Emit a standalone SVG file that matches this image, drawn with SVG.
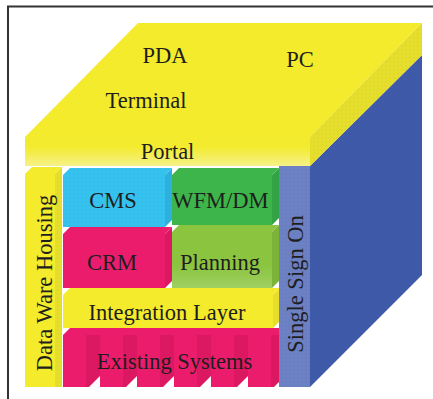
<svg xmlns="http://www.w3.org/2000/svg" width="433" height="399" viewBox="0 0 433 399">
  <defs>
    <linearGradient id="slabFront" x1="0" y1="0" x2="0" y2="1">
      <stop offset="0" stop-color="#f3eb2b"/>
      <stop offset="0.35" stop-color="#f3eb2f"/>
      <stop offset="1" stop-color="#f6f189"/>
    </linearGradient>
    <linearGradient id="softBottom" x1="0" y1="0" x2="0" y2="1">
      <stop offset="0.6" stop-color="#fff" stop-opacity="0"/>
      <stop offset="1" stop-color="#fff" stop-opacity="0.18"/>
    </linearGradient>
    <pattern id="dots" width="4" height="4" patternUnits="userSpaceOnUse">
      <rect x="1" y="1" width="1.3" height="1.3" fill="#000" fill-opacity="0.045"/>
    </pattern>
  </defs>
  <style>
    text { font-family: "Liberation Serif", "Times New Roman", serif; font-size: 22.5px; fill: #1e1e1e; text-anchor: middle; }
    .yellow { fill: #f3eb2b; }
    .yellowSide { fill: #e6de2c; }
    .cyan { fill: #36c2ee; }
    .cyanSide { fill: #2eb1df; }
    .green { fill: #3db54a; }
    .greenSide { fill: #33a443; }
    .lime { fill: #8bc540; }
    .limeSide { fill: #7cb43a; }
    .pink { fill: #ec1c6c; }
    .pinkSide { fill: #dc1862; }
    .blue { fill: #3f5aa9; }
    .blueLight { fill: #6c80c4; }
    .dotted { fill: url(#dots); }
    .gap { fill: #ffffff; }
  </style>

  <rect width="433" height="399" fill="#ffffff"/>
  <!-- frame -->
  <path d="M8 399 V6.5 H433" fill="none" stroke="#333333" stroke-width="2"/>

  <!-- right side of the cube -->
  <g id="cube-side">
    <polygon class="blue" points="310,166 422,55 422,275 310,387"/>
    <polygon class="dotted" points="310,166 422,55 422,275 310,387"/>
  </g>

  <!-- top slab: Terminal / Portal -->
  <g id="terminal-portal">
    <polygon class="yellow" points="138,23 422,23 310,137 25,137"/>
    <rect x="25" y="137" width="285" height="29" fill="url(#slabFront)"/>
    <polygon class="yellowSide" points="310,137 422,23 422,55 310,166"/>
    <polygon class="dotted" points="310,137 422,23 422,55 310,166"/>
    <text x="165" y="63">PDA</text>
    <text x="300" y="67">PC</text>
    <text x="146" y="108">Terminal</text>
    <text x="167.5" y="159">Portal</text>
  </g>

  <!-- CMS -->
  <g id="cms">
    <polygon class="cyan" points="63,175 70,168 172,168 165,175"/>
    <rect class="cyan" x="63" y="175" width="102" height="52"/>
    <polygon class="cyanSide" points="165,175 172,168 172,220 165,227"/>
    <polygon class="dotted" points="63,175 70,168 172,168 172,220 165,227 63,227"/>
    <text x="113" y="208">CMS</text>
  </g>

  <!-- WFM/DM -->
  <g id="wfm-dm">
    <polygon class="green" points="172,175 179,168 279,168 272,175"/>
    <rect class="green" x="172" y="175" width="100" height="50"/>
    <polygon class="greenSide" points="272,175 279,168 279,218 272,225"/>
    <text x="220.5" y="208">WFM/DM</text>
  </g>

  <!-- CRM -->
  <g id="crm">
    <polygon class="pink" points="63,234 70,227 172,227 165,234"/>
    <rect class="pink" x="63" y="234" width="102" height="54"/>
    <polygon class="pinkSide" points="165,234 172,227 172,281 165,288"/>
    <text x="112" y="270">CRM</text>
  </g>

  <!-- Planning -->
  <g id="planning">
    <polygon class="lime" points="172,232 179,225 279,225 272,232"/>
    <rect class="lime" x="172" y="232" width="100" height="56"/>
    <rect x="172" y="232" width="100" height="56" fill="url(#softBottom)"/>
    <polygon class="limeSide" points="272,232 279,225 279,281 272,288"/>
    <text x="220" y="270">Planning</text>
  </g>

  <!-- Integration Layer -->
  <g id="integration-layer">
    <polygon class="yellow" points="63,295 70,288 280,288 273,295"/>
    <rect class="yellow" x="63" y="295" width="210" height="33"/>
    <polygon class="yellowSide" points="273,295 280,288 280,321 273,328"/>
    <text x="167" y="320">Integration Layer</text>
  </g>

  <!-- Existing Systems: a row of pillars -->
  <g id="existing-systems">
    <polygon class="pink" points="63,335 70,328 280,328 280,387 63,387"/>
    <rect class="pinkSide" x="86" y="335" width="14" height="52"/>
    <rect class="pinkSide" x="123" y="335" width="14" height="52"/>
    <rect class="pinkSide" x="160" y="335" width="14" height="52"/>
    <rect class="pinkSide" x="197" y="335" width="14" height="52"/>
    <rect class="pinkSide" x="234" y="335" width="14" height="52"/>
    <rect class="pinkSide" x="271" y="335" width="9" height="52"/>
    <polygon class="gap" points="88,388 100,376 100,388"/>
    <polygon class="gap" points="125,388 137,376 137,388"/>
    <polygon class="gap" points="162,388 174,376 174,388"/>
    <polygon class="gap" points="199,388 211,376 211,388"/>
    <polygon class="gap" points="236,388 248,376 248,388"/>
    <polygon class="gap" points="273,388 285,376 285,388"/>
    <text x="174.5" y="369">Existing Systems</text>
  </g>

  <!-- Single Sign On column -->
  <g id="single-sign-on">
    <rect class="blueLight" x="279" y="166" width="31" height="221"/>
    <rect class="dotted" x="279" y="166" width="31" height="221"/>
    <text transform="translate(303,284) rotate(-90)">Single Sign On</text>
  </g>

  <!-- Data Ware Housing column -->
  <g id="data-ware-housing">
    <polygon class="yellow" points="25,174 32,167 62,167 55,174"/>
    <rect class="yellow" x="25" y="174" width="30" height="213"/>
    <polygon class="yellowSide" points="55,174 62,167 62,387 55,387"/>
    <polygon class="dotted" points="55,174 62,167 62,387 55,387"/>
    <text transform="translate(51.5,283) rotate(-90)">Data Ware Housing</text>
  </g>
</svg>
